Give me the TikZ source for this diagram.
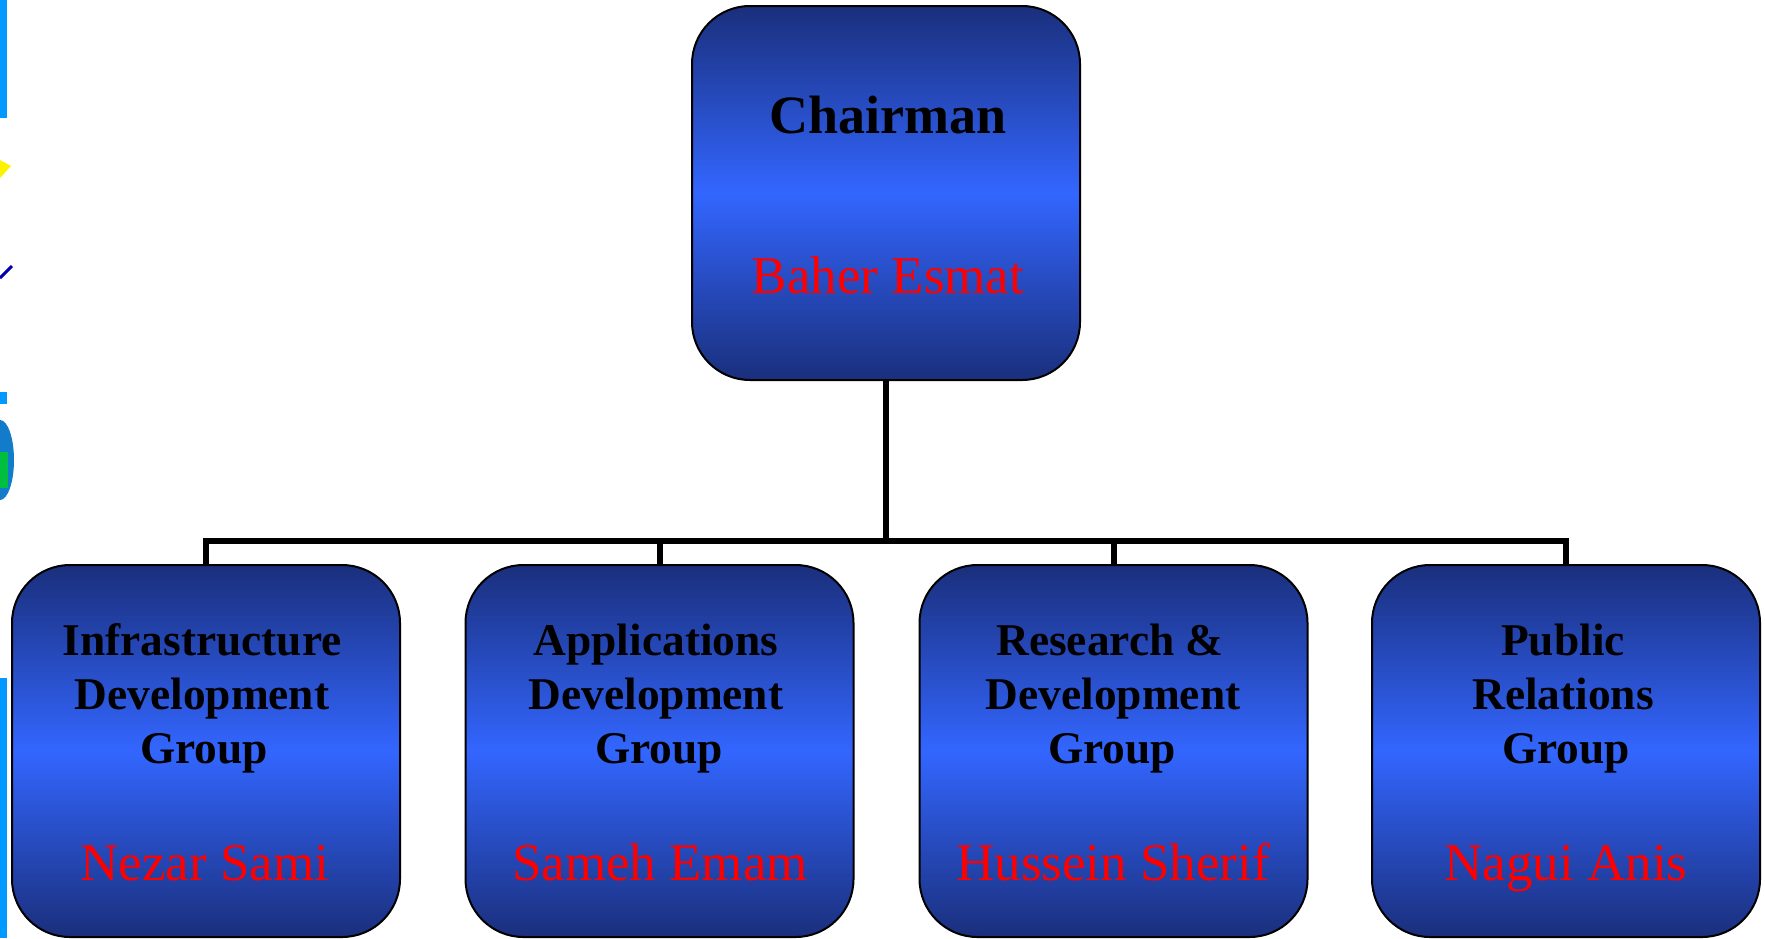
\documentclass[tikz,border=0pt]{standalone}
\usepackage{fontspec}
\setmainfont{Liberation Serif}
\begin{document}
\begin{tikzpicture}[x=0.5pt,y=-0.5pt,
  orgbox/.style={draw=black,line width=1pt,rounded corners=29pt,
    minimum width=194pt,minimum height=186pt,inner sep=0pt,
    top color=navytop,bottom color=navytop,middle color=brightblue},
  titletext/.style={anchor=base,font=\fontsize{22.7pt}{27pt}\selectfont\bfseries,text=black,inner sep=0pt},
  chairtext/.style={anchor=base,font=\fontsize{27pt}{30pt}\selectfont\bfseries,text=black,inner sep=0pt},
  nametext/.style={anchor=base,font=\fontsize{26.5pt}{30pt}\selectfont,text=red,inner sep=0pt},
  conn/.style={draw=black,line width=3pt},
  sidebar/.style={fill=sideblue,draw=none}]
\definecolor{navytop}{HTML}{1A2F7C}
\definecolor{brightblue}{HTML}{3366FF}
\definecolor{sideblue}{HTML}{0099FF}
\useasboundingbox (0,0) rectangle (1765,938);
\fill[white] (0,0) rectangle (1765,938);
% left edge fragments
\path[sidebar] (0,0) rectangle (7,118);
\path[sidebar] (0,392) rectangle (7,404);
\path[sidebar] (0,678) rectangle (7,938);
\fill[yellow] (0,160) -- (11,166) -- (0,178) -- cycle;
\draw[blue!70!black,line width=1.5pt] (0,278) -- (12,266);
\fill[cyan!60!blue] (0,500) arc[start angle=90,end angle=-90,x radius=14,y radius=40] -- cycle;
\fill[green!50!teal] (0,452) rectangle (8,488);
% boxes
\node[orgbox,minimum height=187pt] (chair) at (886,193) {};
\node[orgbox] (b1) at (206,751) {};
\node[orgbox] (b2) at (659.5,751) {};
\node[orgbox] (b3) at (1113.5,751) {};
\node[orgbox] (b4) at (1566,751) {};
% connectors
\coordinate (bus) at (886,541);
\draw[conn] (chair.south) -- (bus);
\draw[conn] (b1.north) |- (b4.north |- bus) -- (b4.north);
\draw[conn] (b2.north) -- (b2.north |- bus);
\draw[conn] (b3.north) -- (b3.north |- bus);
% texts
\node[chairtext] (t0) at (888,133) {Chairman};
\node[nametext] (n0) at (888,293) {Baher Esmat};
\node[titletext] (t1a) at (202,655) {Infrastructure};
\node[titletext] (t1b) at (202,709) {Development};
\node[titletext] (t1c) at (204,763) {Group};
\node[nametext] (n1) at (205,880) {Nezar Sami};
\node[titletext] (t2a) at (656,655) {Applications};
\node[titletext] (t2b) at (656,709) {Development};
\node[titletext] (t2c) at (659,763) {Group};
\node[nametext] (n2) at (660,880) {Sameh Emam};
\node[titletext] (t3a) at (1110,655) {Research \&};
\node[titletext] (t3b) at (1113,709) {Development};
\node[titletext] (t3c) at (1112,763) {Group};
\node[nametext] (n3) at (1113,880) {Hussein Sherif};
\node[titletext] (t4a) at (1563,655) {Public};
\node[titletext] (t4b) at (1563,709) {Relations};
\node[titletext] (t4c) at (1566,763) {Group};
\node[nametext] (n4) at (1566,880) {Nagui Anis};
\end{tikzpicture}
\end{document}
